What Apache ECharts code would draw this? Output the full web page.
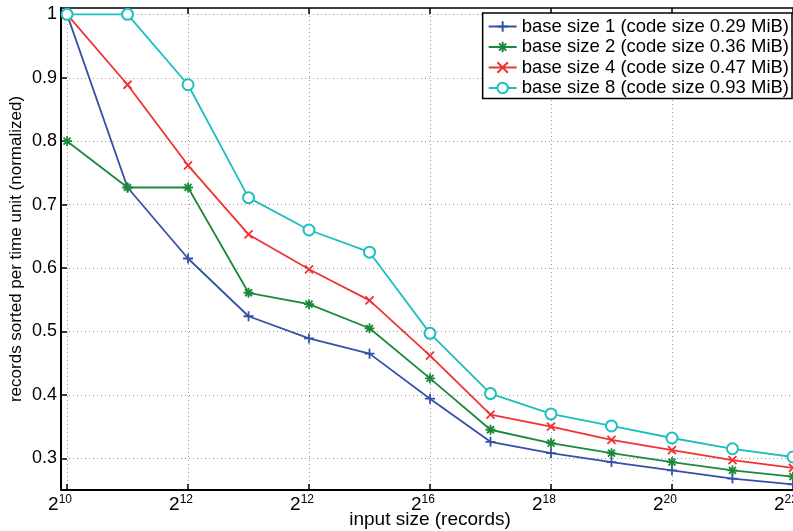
<!DOCTYPE html>
<html><head><meta charset="utf-8">
<script src="https://cdn.jsdelivr.net/npm/echarts@6/dist/echarts.min.js"></script>
<style>html,body{margin:0;padding:0;background:#fff}#c{width:793px;height:531px}</style>
</head><body><div id="c"></div>
<script>
const exponents = [10,11,12,13,14,15,16,17,18,19,20,21,22];
const tickExponents = [10,12,14,16,18,20,22];
const tickLabels = ['10','12','12','16','18','20','22'];
const yTicks = [0.3,0.4,0.5,0.6,0.7,0.8,0.9,1.0];
const seriesNames = [
  'base size 1 (code size 0.29 MiB)',
  'base size 2 (code size 0.36 MiB)',
  'base size 4 (code size 0.47 MiB)',
  'base size 8 (code size 0.93 MiB)'
];
const base1 = [1.0,0.727,0.615,0.524,0.489,0.465,0.394,0.326,0.308,0.294,0.281,0.268,0.259];
const base2 = [0.8,0.727,0.727,0.561,0.543,0.505,0.426,0.345,0.324,0.308,0.294,0.281,0.271];
const base4 = [1.0,0.889,0.762,0.653,0.598,0.549,0.462,0.369,0.350,0.329,0.313,0.297,0.285];
const base8 = [1.0,1.0,0.889,0.711,0.660,0.625,0.497,0.402,0.370,0.351,0.332,0.315,0.302];

const colors = ['#3550a8','#1a8a3a','#f03232','#1ebebe'];
const symbols = [
  'path://M0,-1 L0,1 M-1,0 L1,0',
  'path://M0,-1 L0,1 M-1,0 L1,0 M-0.7,-0.7 L0.7,0.7 M-0.7,0.7 L0.7,-0.7',
  'path://M-1,-1 L1,1 M-1,1 L1,-1',
  'emptyCircle'
];
const sizes = [10,10,8,11];
const allData = [base1, base2, base4, base8];
const FONT = 'Liberation Sans, Arial, Helvetica, sans-serif';

const chart = echarts.init(document.getElementById('c'), null, {renderer:'canvas'});
const series = allData.map((vals, k) => ({
  name: seriesNames[k],
  type: 'line',
  data: exponents.map((e, i) => [e, vals[i]]),
  symbol: symbols[k],
  symbolSize: sizes[k],
  showAllSymbol: true,
  lineStyle: {color: colors[k], width: 1.8},
  itemStyle: k === 3
    ? {color: colors[k], borderWidth: 1.8}
    : {color: 'transparent', borderColor: colors[k], borderWidth: 1.8},
  emphasis: {disabled: true},
  z: 3 + k
}));

const xCommon = {type: 'value', min: 9.9, max: 22.1};
chart.setOption({
  animation: false,
  grid: {left: 61, right: -6, top: 8, bottom: 41, outerBoundsMode: 'none', containLabel: false},
  legend: {
    orient: 'vertical', right: 1, top: 13,
    itemWidth: 28, itemHeight: 13, itemGap: 1.5,
    padding: [4, 3, 1, 5],
    backgroundColor: '#fff', borderColor: '#000', borderWidth: 1.5,
    textStyle: {fontSize: 18.5, lineHeight: 17.5, fontFamily: FONT, color: '#000'},
    data: seriesNames
  },
  xAxis: [Object.assign({}, xCommon, {
    position: 'bottom',
    name: 'input size (records)', nameLocation: 'middle', nameGap: 20, nameMoveOverlap: false,
    nameTextStyle: {fontSize: 19, fontFamily: FONT, color: '#000'},
    axisLine: {lineStyle: {color: '#000', width: 2}},
    axisTick: {inside: true, length: 6, customValues: tickExponents, lineStyle: {color: '#000', width: 1.5}},
    axisLabel: {
      customValues: tickExponents,
      margin: 4,
      padding: [0, 14, 0, 0],
      formatter: v => '{b|2}{s|' + tickLabels[tickExponents.indexOf(Math.round(v))] + '}',
      rich: {
        b: {fontSize: 19, fontFamily: FONT, color: '#000'},
        s: {fontSize: 12, fontFamily: FONT, color: '#000', padding: [0, 0, 9, 0]}
      }
    },
    splitLine: {show: true, lineStyle: {color: '#999', width: 1, type: [1, 3]}}
  }), Object.assign({}, xCommon, {
    position: 'top',
    axisLine: {lineStyle: {color: '#000', width: 1.5}},
    axisTick: {inside: true, length: 6, customValues: tickExponents, lineStyle: {color: '#000', width: 1.5}},
    axisLabel: {show: false},
    splitLine: {show: false}
  })],
  yAxis: [{
    type: 'value', min: 0.25, max: 1.01,
    name: 'records sorted per time unit (normalized)', nameLocation: 'middle', nameGap: 36, nameMoveOverlap: false,
    nameTextStyle: {fontSize: 17, fontFamily: FONT, color: '#000'},
    axisLine: {show: true, lineStyle: {color: '#000', width: 2}},
    axisTick: {show: true, inside: true, length: 6, customValues: yTicks, lineStyle: {color: '#000', width: 1.5}},
    axisLabel: {
      customValues: yTicks, margin: 4,
      fontSize: 18, fontFamily: FONT, color: '#000',
      formatter: v => Math.abs(v - 1) < 1e-9 ? '1' : v.toFixed(1)
    },
    splitLine: {show: true, lineStyle: {color: '#999', width: 1, type: [1, 3]}}
  }, {
    type: 'value', min: 0.25, max: 1.01, position: 'right',
    axisLine: {show: true, lineStyle: {color: '#000', width: 1.5}},
    axisTick: {show: true, inside: true, length: 6, customValues: yTicks},
    axisLabel: {show: false},
    splitLine: {show: false}
  }],
  series: series
});
</script></body></html>
